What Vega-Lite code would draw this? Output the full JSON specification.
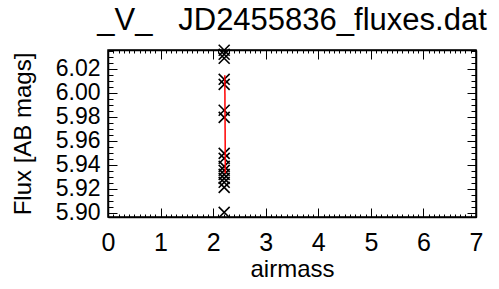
{
  "$schema": "https://vega.github.io/schema/vega-lite/v6.json",
  "width": 368,
  "height": 167,
  "autosize": "none",
  "padding": {"left": 108, "top": 50, "right": 23, "bottom": 72},
  "background": "white",
  "title": {
    "text": "_V_\u00a0\u00a0\u00a0JD2455836_fluxes.dat",
    "font": "Liberation Sans",
    "fontSize": 31,
    "fontWeight": "normal",
    "color": "black",
    "anchor": "middle",
    "offset": 5
  },
  "config": {
    "view": {"stroke": "black", "strokeWidth": 1.5},
    "axis": {
      "labelFont": "Liberation Sans",
      "labelFontSize": 25,
      "labelColor": "black",
      "labelOverlap": false,
      "labelFlush": false,
      "titleFont": "Liberation Sans",
      "titleFontSize": 24,
      "titleFontWeight": "normal",
      "titleColor": "black",
      "domainColor": "black",
      "domainWidth": 1.5,
      "tickColor": "black",
      "tickWidth": 1,
      "grid": false
    }
  },
  "datasets": {
    "obs": [
      {"airmass": 2.21, "flux": 6.0353},
      {"airmass": 2.21, "flux": 6.0319},
      {"airmass": 2.21, "flux": 6.0286},
      {"airmass": 2.21, "flux": 6.0111},
      {"airmass": 2.21, "flux": 6.0069},
      {"airmass": 2.21, "flux": 5.9853},
      {"airmass": 2.21, "flux": 5.9794},
      {"airmass": 2.21, "flux": 5.9494},
      {"airmass": 2.21, "flux": 5.9453},
      {"airmass": 2.21, "flux": 5.9386},
      {"airmass": 2.21, "flux": 5.9353},
      {"airmass": 2.21, "flux": 5.9319},
      {"airmass": 2.21, "flux": 5.9286},
      {"airmass": 2.21, "flux": 5.9253},
      {"airmass": 2.21, "flux": 5.9211},
      {"airmass": 2.21, "flux": 5.9003}
    ],
    "fit": [
      {"airmass": 2.222, "flux": 6.0145},
      {"airmass": 2.232, "flux": 5.9328}
    ]
  },
  "layer": [
    {
      "data": {"name": "obs"},
      "mark": {"type": "point", "shape": "M-1,-1L1,1M-1,1L1,-1", "size": 120, "filled": false, "stroke": "black", "strokeWidth": 1.6, "opacity": 1, "clip": false},
      "encoding": {
        "x": {"field": "airmass", "type": "quantitative", "scale": {"domain": [0, 7], "nice": false, "zero": false},
          "axis": {"orient": "bottom", "title": "airmass", "values": [0,1,2,3,4,5,6,7], "format": "d", "tickSize": -9, "labelPadding": 22, "titlePadding": 2}},
        "y": {"field": "flux", "type": "quantitative", "scale": {"domain": [5.8964, 6.0355], "nice": false, "zero": false},
          "axis": {"orient": "left", "title": "Flux [AB mags]", "values": [5.90,5.92,5.94,5.96,5.98,6.00,6.02], "format": ".2f", "labelFontSize": 23, "tickSize": -9, "labelPadding": 17, "titlePadding": 20}}
      }
    },
    {
      "data": {"name": "fit"},
      "mark": {"type": "line", "color": "red", "strokeWidth": 1.5},
      "encoding": {
        "x": {"field": "airmass", "type": "quantitative", "axis": {"orient": "top", "title": null, "labels": false, "values": [0,1,2,3,4,5,6,7], "tickSize": -9}},
        "y": {"field": "flux", "type": "quantitative", "axis": {"orient": "right", "title": null, "labels": false, "values": [5.90,5.92,5.94,5.96,5.98,6.00,6.02], "tickSize": -9}}
      }
    },
    {
      "data": {"name": "obs"},
      "mark": {"type": "point", "opacity": 0},
      "encoding": {
        "x": {"field": "airmass", "type": "quantitative", "axis": {"orient": "bottom", "title": null, "labels": false, "tickCount": 70, "tickSize": -3, "domain": false}},
        "y": {"field": "flux", "type": "quantitative", "axis": {"orient": "left", "title": null, "labels": false, "tickCount": 28, "tickSize": -5, "domain": false}}
      }
    },
    {
      "data": {"name": "obs"},
      "mark": {"type": "point", "opacity": 0},
      "encoding": {
        "x": {"field": "airmass", "type": "quantitative", "axis": {"orient": "top", "title": null, "labels": false, "tickCount": 70, "tickSize": -3, "domain": false}},
        "y": {"field": "flux", "type": "quantitative", "axis": {"orient": "right", "title": null, "labels": false, "tickCount": 28, "tickSize": -5, "domain": false}}
      }
    }
  ],
  "resolve": {"axis": {"x": "independent", "y": "independent"}}
}
